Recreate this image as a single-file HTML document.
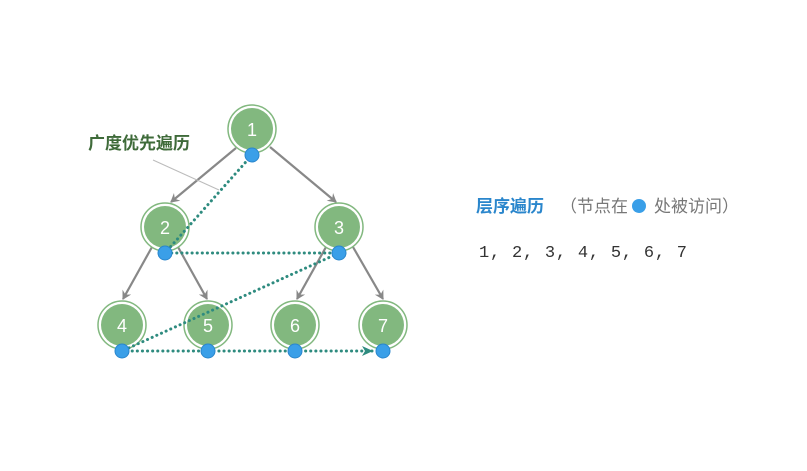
<!DOCTYPE html>
<html><head><meta charset="utf-8"><style>
body{margin:0;background:#fff;}
svg{display:block}
</style></head><body>
<svg width="807" height="471" viewBox="0 0 807 471" xmlns="http://www.w3.org/2000/svg">
<defs>
<marker id="ag" markerWidth="10" markerHeight="10" refX="8" refY="5" orient="auto" markerUnits="userSpaceOnUse"><path d="M0,0 L9,5 L0,10 L3,5 Z" fill="#888"/></marker>
<marker id="at" markerWidth="12" markerHeight="10" refX="10" refY="5" orient="auto" markerUnits="userSpaceOnUse"><path d="M0,0 L11,5 L0,10 L3,5 Z" fill="#2e8b7f"/></marker>
</defs>
<g stroke="#888" stroke-width="2.2" fill="none" marker-end="url(#ag)">
<line x1="236" y1="148" x2="171" y2="202"/>
<line x1="270" y1="147" x2="336" y2="202"/>
<line x1="152" y1="247" x2="123" y2="299"/>
<line x1="178" y1="247" x2="207" y2="299"/>
<line x1="326" y1="247" x2="297" y2="299"/>
<line x1="353" y1="247" x2="383" y2="299"/>
</g>
<line x1="153" y1="160" x2="219" y2="190" stroke="#bbb" stroke-width="1"/>
<g fill="#82b87f" stroke="none">
<circle cx="252" cy="129" r="21"/><circle cx="165" cy="227" r="21"/><circle cx="339" cy="227" r="21"/>
<circle cx="122" cy="325" r="21"/><circle cx="208" cy="325" r="21"/><circle cx="295" cy="325" r="21"/><circle cx="383" cy="325" r="21"/>
</g>
<g fill="none" stroke="#82b87f" stroke-width="1.5">
<circle cx="252" cy="129" r="24"/><circle cx="165" cy="227" r="24"/><circle cx="339" cy="227" r="24"/>
<circle cx="122" cy="325" r="24"/><circle cx="208" cy="325" r="24"/><circle cx="295" cy="325" r="24"/><circle cx="383" cy="325" r="24"/>
</g>
<g font-family="'Liberation Sans',sans-serif" font-size="18" fill="#fff" text-anchor="middle">
<text x="252" y="136">1</text><text x="165" y="234">2</text><text x="339" y="234">3</text>
<text x="122" y="332">4</text><text x="208" y="332">5</text><text x="295" y="332">6</text><text x="383" y="332">7</text>
</g>
<g stroke="#2e8b7f" stroke-width="3" stroke-dasharray="0.1 5" stroke-linecap="round" fill="none">
<polyline points="252,155 165,253 339,253 122,351"/>
<line x1="122" y1="351" x2="372" y2="351" marker-end="url(#at)"/>
</g>
<g fill="#3a9fe8" stroke="#2a86cc" stroke-width="1">
<circle cx="252" cy="155" r="7"/><circle cx="165" cy="253" r="7"/><circle cx="339" cy="253" r="7"/>
<circle cx="122" cy="351" r="7"/><circle cx="208" cy="351" r="7"/><circle cx="295" cy="351" r="7"/><circle cx="383" cy="351" r="7"/>
</g>
<text x="88" y="149" font-family="'Liberation Sans','Noto Sans CJK SC',sans-serif" font-size="17" font-weight="bold" fill="#3f6b3a">广度优先遍历</text>
<text x="476" y="212" font-family="'Liberation Sans','Noto Sans CJK SC',sans-serif" font-size="17" font-weight="bold" fill="#2a86cc">层序遍历</text>
<text x="560" y="212" font-family="'Liberation Sans','Noto Sans CJK SC',sans-serif" font-size="17" fill="#777">（节点在</text>
<circle cx="639" cy="206" r="7" fill="#3a9fe8"/>
<text x="654" y="212" font-family="'Liberation Sans','Noto Sans CJK SC',sans-serif" font-size="17" fill="#777">处被访问）</text>
<text x="479" y="257" textLength="208" lengthAdjust="spacing" font-family="'Liberation Mono',monospace" font-size="17" fill="#333">1, 2, 3, 4, 5, 6, 7</text>
</svg>
</body></html>
